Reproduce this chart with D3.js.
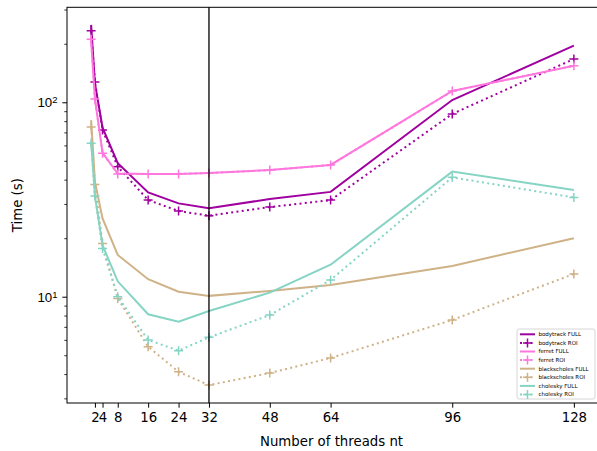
<!DOCTYPE html>
<html><head><meta charset="utf-8">
<script src="https://cdn.jsdelivr.net/npm/d3@7"></script>
<style>body{margin:0;background:#fff}svg{display:block;font-family:"DejaVu Sans",sans-serif}</style>
</head><body><svg id="c" width="597" height="451"></svg>
<script>
const threads = [1, 2, 4, 8, 16, 24, 32, 48, 64, 96, 128];
const xTicks = [2, 4, 8, 16, 24, 32, 48, 64, 96, 128];
const yMajorTicks = [10, 100];
const bodytrackFull = [250, 125, 74, 48.6, 34.4, 30.2, 28.5, 31.8, 34.6, 102.7, 195.5];
const bodytrackRoi = [233, 127, 72, 46.6, 31.4, 27.6, 26.1, 28.9, 31.4, 87.1, 167];
const ferretFull = [207, 104, 55, 43, 42.8, 42.8, 43.3, 44.8, 47.6, 114.3, 154];
const ferretRoi = [211, 104, 54.7, 42.8, 42.8, 42.8, 43.3, 44.8, 47.6, 114.3, 154];
const blackscholesFull = [81, 39, 25.3, 16.4, 12.3, 10.6, 10.1, 10.7, 11.5, 14.4, 20.0];
const blackscholesRoi = [74.7, 37.8, 18.8, 9.8, 5.53, 4.11, 3.51, 4.05, 4.84, 7.59, 13.1];
const choleskyFull = [63, 33, 18.4, 12.0, 8.12, 7.44, 8.44, 10.5, 14.6, 44.0, 35.4];
const choleskyRoi = [61.5, 33, 17.7, 10.0, 5.99, 5.28, 6.18, 8.05, 12.2, 41.1, 32.4];
const seriesNames = ["bodytrack FULL", "bodytrack ROI", "ferret FULL", "ferret ROI",
  "blackscholes FULL", "blackscholes ROI", "cholesky FULL", "cholesky ROI"];
const seriesValues = [bodytrackFull, bodytrackRoi, ferretFull, ferretRoi,
  blackscholesFull, blackscholesRoi, choleskyFull, choleskyRoi];
const colors = ["#a0009f", "#a0009f", "#ff77dd", "#ff77dd", "#cfb287", "#cfb287", "#86d4c4", "#86d4c4"];
const isRoi = [false, true, false, true, false, true, false, true];
const vLineX = 32;

const svg = d3.select("#c");
const L = 67, R = 598, T = 7.3, B = 403;
const x = d3.scaleLinear().domain([-5.35, 134.35]).range([L, R]);
const y = d3.scaleLog().domain([2.84, 308]).range([B, T]);

const plot = svg.append("g");
const clip = svg.append("clipPath").attr("id", "cp").append("rect")
  .attr("x", L).attr("y", T).attr("width", R - L).attr("height", B - T);

const gLines = plot.append("g").attr("clip-path", "url(#cp)");
const line = d3.line().x(d => x(d[0])).y(d => y(d[1]));

seriesValues.forEach((vals, i) => {
  const pts = threads.map((t, j) => [t, vals[j]]);
  gLines.append("path").attr("d", line(pts)).attr("fill", "none")
    .attr("stroke", colors[i]).attr("stroke-width", 2)
    .attr("stroke-dasharray", isRoi[i] ? "2,3.3" : null);
  if (isRoi[i]) {
    gLines.selectAll(null).data(pts).enter().append("path")
      .attr("d", d => `M${x(d[0]) - 4.5},${y(d[1])}h9M${x(d[0])},${y(d[1]) - 4.5}v9`)
      .attr("stroke", colors[i]).attr("stroke-width", 1.5).attr("fill", "none");
  }
});

// vertical line at 32
plot.append("line").attr("x1", x(vLineX)).attr("x2", x(vLineX)).attr("y1", T).attr("y2", B)
  .attr("stroke", "#000").attr("stroke-width", 1.3);

// spines
plot.append("rect").attr("x", L).attr("y", T).attr("width", R - L).attr("height", B - T)
  .attr("fill", "none").attr("stroke", "#000").attr("stroke-width", 1);

// x axis
const xAxis = d3.axisBottom(x).tickValues(xTicks).tickSize(4.7).tickPadding(4.5).tickFormat(d3.format("d"));
const gx = svg.append("g").attr("transform", `translate(0,${B})`).call(xAxis);
gx.select(".domain").remove();
gx.selectAll("text").attr("font-size", 13.3).attr("font-family", "DejaVu Sans").attr("fill", "#000");
gx.selectAll("line").attr("stroke", "#000").attr("stroke-width", 1);

// y axis minor
const minor = [];
[1, 10, 100].forEach(dec => { for (let k = 2; k <= 9; k++) { const v = k * dec; if (v >= 2.84 && v <= 308) minor.push(v); } });
const gyMinor = svg.append("g").attr("transform", `translate(${L},0)`)
  .call(d3.axisLeft(y).tickValues(minor).tickSize(2.7).tickFormat(""));
gyMinor.select(".domain").remove();
gyMinor.selectAll("line").attr("stroke", "#000").attr("stroke-width", 0.8);
const gy = svg.append("g").attr("transform", `translate(${L},0)`)
  .call(d3.axisLeft(y).tickValues(yMajorTicks).tickSize(4.7).tickPadding(4.7).tickFormat(""));
gy.select(".domain").remove();
gy.selectAll("line").attr("stroke", "#000").attr("stroke-width", 1);
gy.selectAll(".tick").append("text").attr("x", -9.5).attr("dy", "0.35em")
  .attr("text-anchor", "end").attr("fill", "#000").attr("font-size", 13.3)
  .each(function (d) {
    const t = d3.select(this);
    t.append("tspan").text("10");
    t.append("tspan").attr("dy", "-0.45em").attr("font-size", 9.5).text(String(Math.round(Math.log10(d))));
  });

// axis labels
svg.append("text").attr("x", (L + R) / 2 - 1).attr("y", 445.5).attr("text-anchor", "middle")
  .attr("font-size", 13.3).text("Number of threads nt");
svg.append("text").attr("transform", `translate(21.5,${(T + B) / 2}) rotate(-90)`)
  .attr("text-anchor", "middle").attr("font-size", 13.3).text("Time (s)");

// legend
const lg = svg.append("g");
lg.append("rect").attr("x", 517).attr("y", 329).attr("width", 78).attr("height", 70).attr("rx", 2)
  .attr("fill", "#fff").attr("fill-opacity", 0.8).attr("stroke", "#cccccc").attr("stroke-width", 0.8);
seriesNames.forEach((name, i) => {
  const yy = 334.3 + i * 8.6;
  lg.append("line").attr("x1", 520).attr("x2", 535).attr("y1", yy).attr("y2", yy)
    .attr("stroke", colors[i]).attr("stroke-width", 2)
    .attr("stroke-dasharray", isRoi[i] ? "2,3.3" : null);
  if (isRoi[i]) {
    lg.append("path").attr("d", `M${527.5 - 4.5},${yy}h9M527.5,${yy - 4.5}v9`)
      .attr("stroke", colors[i]).attr("stroke-width", 1.5);
  }
  lg.append("text").attr("x", 538.5).attr("y", yy).attr("dy", "0.35em")
    .attr("font-size", 5.5).attr("fill", "#000").text(name);
});
</script></body></html>
